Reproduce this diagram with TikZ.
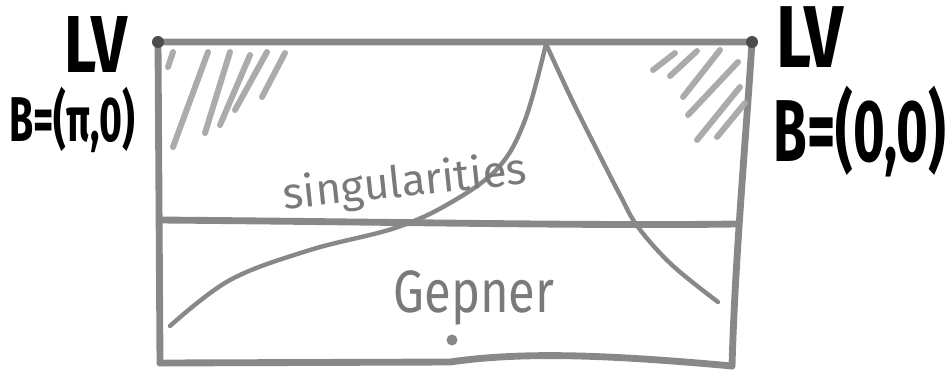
\documentclass[tikz,border=0pt]{standalone}
\usepackage{fontspec}
\usepackage{graphicx}
\setmainfont{Fira Sans}
\definecolor{penline}{HTML}{888888}
\definecolor{pentext}{HTML}{7A7A7A}
\definecolor{hatch}{HTML}{ABABAB}
\begin{document}
\begin{tikzpicture}[x=0.02cm,y=-0.02cm,
  boxline/.style={draw=penline,line width=3.9pt,line cap=round,line join=round},
  curveline/.style={draw=penline,line width=2.5pt,line cap=round},
  hatchline/.style={draw=hatch,line width=3.4pt,line cap=round},
  blacklabel/.style={text=black,inner sep=0pt,font=\bfseries},
  graylabel/.style={text=pentext,inner sep=0pt}]
\useasboundingbox (0,0) rectangle (952,373);
% corners
\coordinate (tl) at (158,42);
\coordinate (tr) at (752,42);
\coordinate (bl) at (160,363);
\coordinate (br) at (732,366);
\coordinate (ml) at (160,220);
\coordinate (mr) at (735,224);
% box
\draw[boxline] (tr) -- (tl) -- (bl);
\draw[boxline] (bl) -- (450,362) .. controls (520,352) and (600,354) .. (br);
\draw[boxline] (tr) .. controls (745,150) and (735,260) .. (br);
\draw[boxline] (ml) .. controls (400,222) and (600,226) .. (mr);
\fill[black!70] (tl) circle (6);
\fill[black!70] (tr) circle (6);
% hatching top-left
\draw[hatchline] (168,67) -- (173,52);
\draw[hatchline] (173,147) -- (208,52);
\draw[hatchline] (205,133) -- (230,52);
\draw[hatchline] (220,125) -- (250,55);
\draw[hatchline] (235,110) -- (267,52);
\draw[hatchline] (262,97) -- (285,53);
% hatching top-right
\draw[hatchline] (653,70) -- (675,53);
\draw[hatchline] (670,76) -- (697,51);
\draw[hatchline] (683,97) -- (720,50);
\draw[hatchline] (688,115) -- (738,62);
\draw[hatchline] (697,140) -- (740,87);
\draw[hatchline] (717,137) -- (745,103);
% singularity curves
\coordinate (ctop) at (546,44);
\coordinate (lend) at (170,326);
\coordinate (rend) at (718,302);
\draw[curveline] plot[smooth,tension=0.6] coordinates {(lend) (230,280) (310,250) (395,228) (450,203) (498,168) (525,120) (ctop)};
\draw[curveline] plot[smooth,tension=0.6] coordinates {(ctop) (572,100) (597,150) (620,195) (638,227) (672,265) (rend)};
% labels
\node[blacklabel] (lvl) at (96,44) {\fontsize{46}{46}\selectfont\scalebox{0.78}[1]{LV}};
\node[blacklabel] (bl1) at (72,120) {\fontsize{36}{36}\selectfont\scalebox{0.62}[1]{B=(π,0)}};
\node[blacklabel] (lvr) at (810,37) {\fontsize{50}{50}\selectfont\scalebox{0.78}[1]{LV}};
\node[blacklabel] (br1) at (860,132) {\fontsize{50}{50}\selectfont\scalebox{0.62}[1]{B=(0,0)}};
\node[graylabel,rotate=6] (sing) at (405,184) {\fontsize{25}{25}\selectfont singularities};
\node[graylabel] (gep) at (474,298) {\fontsize{34}{34}\selectfont\scalebox{0.82}[1]{Gepner}};
\fill[penline] (452,340) circle (5.5);
\end{tikzpicture}
\end{document}
